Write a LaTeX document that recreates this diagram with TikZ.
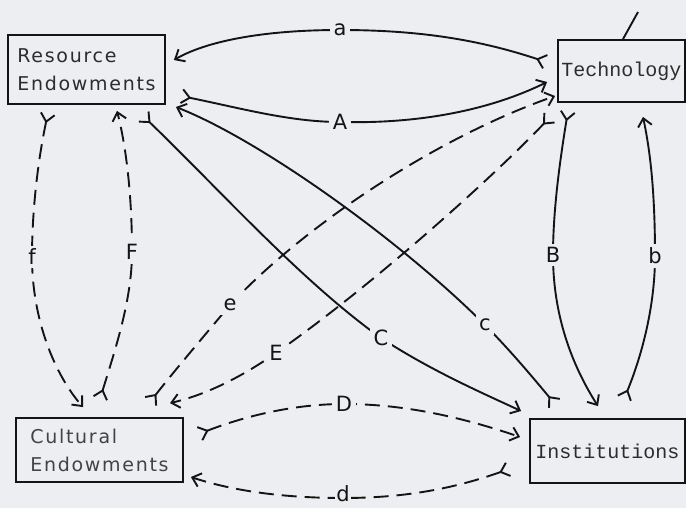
\documentclass[tikz,border=0pt]{standalone}
\usepackage{fontspec}
\setmainfont{DejaVu Sans}
\newfontfamily\monofnt{Liberation Mono}
\newfontfamily\boxfnt[LetterSpace=9]{DejaVu Sans}
\usetikzlibrary{arrows.meta,calc}
\definecolor{bg}{RGB}{237,238,242}
\definecolor{ink}{RGB}{20,20,20}
\begin{document}
\begin{tikzpicture}[x=1pt,y=-1pt,
  box/.style={draw=ink, line width=1.8pt, rectangle, inner sep=0pt, text=ink!90},
  sansbox/.style={box, align=left, font=\boxfnt\fontsize{19}{28}\selectfont},
  monobox/.style={box, font=\monofnt\fontsize{20}{22}\selectfont},
  conn/.style={draw=ink, line width=1.9pt},
  dsh/.style={conn, dash pattern=on 15pt off 8pt},
  tw/.style={{Straight Barb[reversed,length=8pt,width=14pt]}-{Straight Barb[length=8pt,width=14pt]}},
  lbl/.style={fill=bg, inner sep=3.5pt, text=ink, font=\fontsize{21}{23}\selectfont}
]
\fill[bg] (0,0) rectangle (686,508);
\useasboundingbox (0,0) rectangle (686,508);

% boxes
\node[sansbox, minimum width=157pt, minimum height=69pt] (res) at (86.5,69.5) {Resource\\Endowments};
\node[monobox, minimum width=127pt, minimum height=62pt] (tech) at (621.5,71) {Technology};
\node[sansbox, minimum width=167pt, minimum height=64pt, text=ink!80] (cult) at (99.5,450) {Cultural\\Endowments};
\node[monobox, minimum width=155pt, minimum height=64pt] (inst) at (607.5,451) {Institutions};

% stray stroke above Technology
\coordinate (tick) at (638,12);
\draw[conn] ($(tech.north)+(1.5,0)$) -- (tick);

% solid connectors
\draw[conn,tw] ($(tech.west)+(-11,-9)$) .. controls (480,40) and (420,30) .. (340,30) .. controls (260,30) and (205,42) .. ($(res.east)+(8,-9.5)$);
\draw[conn,tw] ($(res.east)+(15,26.5)$) .. controls (240,108) and (290,122) .. (340,122) .. controls (420,124) and (490,110) .. ($(tech.west)+(-10,11)$);
\draw[conn,tw] ($(tech.south)+(-53.5,8)$) .. controls (560,160) and (553,210) .. (553,255) .. controls (553,320) and (575,370) .. ($(inst.north)+(-9.5,-12)$);
\draw[conn,tw] ($(inst.north)+(16.5,-19)$) .. controls (640,360) and (655,310) .. (655,256) .. controls (655,190) and (650,150) .. ($(tech.south)+(21.5,14)$);
\draw[conn,tw] ($(res.south)+(56.5,11)$) .. controls (220,190) and (300,280) .. (381,338) .. controls (430,370) and (480,392) .. ($(inst.west)+(-8,-40)$);
\draw[conn,tw] ($(inst.north)+(-52.5,-14)$) .. controls (535,380) and (510,350) .. (485,325) .. controls (400,240) and (260,140) .. ($(res.east)+(10,37.5)$);

% dashed connectors
\draw[dsh,tw] ($(cult.east)+(15,-16)$) .. controls (240,418) and (290,404) .. (344,404) .. controls (410,404) and (470,420) .. ($(inst.west)+(-9,-14)$);
\draw[dsh,tw] ($(inst.west)+(-20,18)$) .. controls (450,490) and (400,498) .. (343,498) .. controls (280,498) and (230,490) .. ($(cult.east)+(7,27)$);
\draw[dsh,tw] ($(tech.west)+(-7,46)$) .. controls (500,170) and (380,280) .. (276,353) .. controls (240,378) and (205,395) .. ($(cult.north)+(70.5,-14)$);
\draw[dsh,tw] ($(cult.north)+(50.5,-15)$) .. controls (175,370) and (205,335) .. (230,305) .. controls (300,230) and (430,140) .. ($(tech.west)+(-2,25)$);
\draw[dsh,tw] ($(res.south)+(-38.5,8)$) .. controls (38,160) and (32,210) .. (32,257) .. controls (32,320) and (55,375) .. ($(cult.north)+(-16.5,-10)$);
\draw[dsh,tw] ($(cult.north)+(0.5,-18)$) .. controls (115,350) and (132,300) .. (132,252) .. controls (132,200) and (127,150) .. ($(res.south)+(30.5,6)$);

% labels
\node[lbl] (la) at (340,30) {a};
\node[lbl] (lA) at (340,122) {A};
\node[lbl] (lB) at (553,255) {B};
\node[lbl] (lb) at (655,256) {b};
\node[lbl] (lC) at (381,338) {C};
\node[lbl] (lc) at (485,325) {c};
\node[lbl] (lD) at (344,404) {D};
\node[lbl, inner sep=1pt] (ld) at (343,494) {d};
\node[lbl] (lE) at (276,353) {E};
\node[lbl] (le) at (230,305) {e};
\node[lbl] (lF) at (132,252) {F};
\node[lbl] (lf) at (32,257) {f};
\end{tikzpicture}
\end{document}
